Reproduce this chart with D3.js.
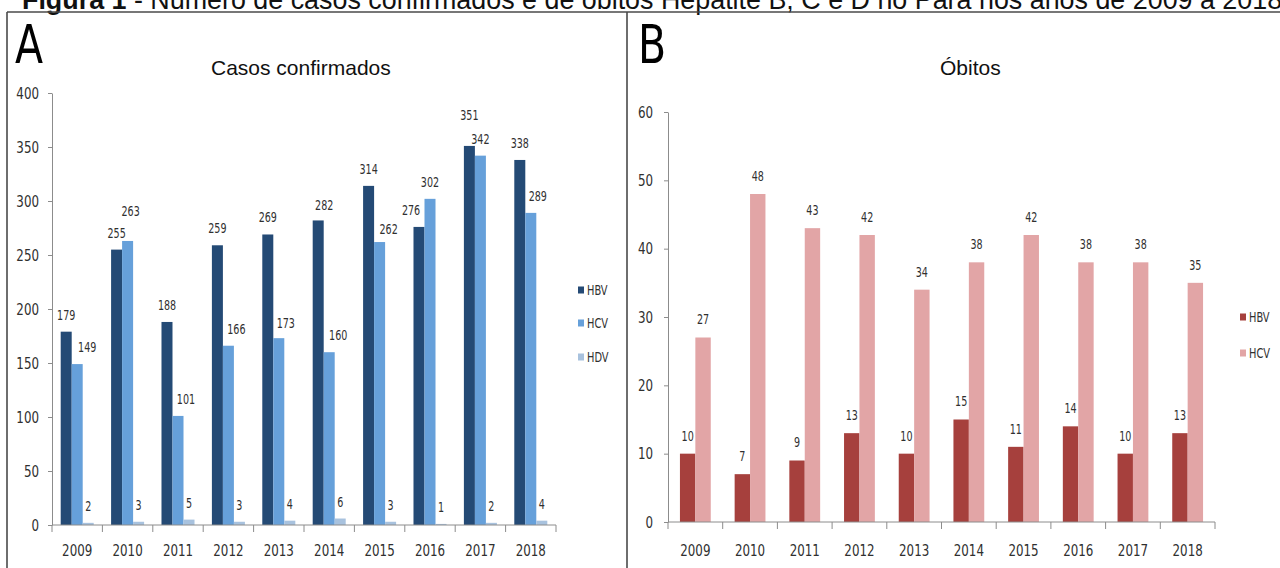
<!DOCTYPE html>
<html>
<head>
<meta charset="utf-8">
<script src="https://cdn.jsdelivr.net/npm/d3@7/dist/d3.min.js"></script>
<style>
  html, body { margin: 0; padding: 0; background: #fff; }
  svg { display: block; }
  .sans { font-family: 'Liberation Sans', Arial, sans-serif; }
  .letter { font-family: 'DejaVu Sans Condensed', 'DejaVu Sans', sans-serif; }
  /* narrow chart lettering: condensed face squeezed a little further */
  .narrow, .narrowEnd {
    font-family: 'DejaVu Sans Condensed', 'DejaVu Sans', sans-serif;
    transform-box: fill-box;
    transform: scaleX(0.8);
  }
  .narrow { transform-origin: 50% 50%; }
  .narrowEnd { transform-origin: 100% 50%; }
  .narrowStart { 
    font-family: 'DejaVu Sans Condensed', 'DejaVu Sans', sans-serif;
    transform-box: fill-box; transform-origin: 0% 50%; transform: scaleX(0.8);
  }
</style>
</head>
<body>
<svg id="fig" width="1280" height="568"></svg>
<script>
// ---- data ----
const years = ["2009", "2010", "2011", "2012", "2013", "2014", "2015", "2016", "2017", "2018"];

// Panel A: confirmed cases
const seriesA = ["HBV", "HCV", "HDV"];
const casosHBV = [179, 255, 188, 259, 269, 282, 314, 276, 351, 338];
const casosHCV = [149, 263, 101, 166, 173, 160, 262, 302, 342, 289];
const casosHDV = [2, 3, 5, 3, 4, 6, 3, 1, 2, 4];
const ticksA = [0, 50, 100, 150, 200, 250, 300, 350, 400];

// Panel B: deaths
const seriesB = ["HBV", "HCV"];
const obitosHBV = [10, 7, 9, 13, 10, 15, 11, 14, 10, 13];
const obitosHCV = [27, 48, 43, 42, 34, 38, 42, 38, 38, 35];
const ticksB = [0, 10, 20, 30, 40, 50, 60];

// hand-placed value labels (dx, dy in px relative to the default spot)
const shiftA_HBV = [[0,0],[0,0],[0,0],[0,0],[0,0],[6,2],[0,0],[-8,0],[0,-14],[0,0]];
const shiftA_HCV = [[10,0],[3,-13],[8,0],[8,0],[7,2],[9,0],[9,4],[0,0],[0,0],[7,0]];
const shiftA_HDV = years.map(() => [0, 0]);

const svg = d3.select("#fig");

// ---- figure caption and frame ----
const caption = svg.append("text").attr("class", "sans")
  .attr("x", 22).attr("y", 9).attr("fill", "#111").style("font-size", "22px");
caption.append("tspan").attr("font-weight", "bold").text("Figura 1");
caption.append("tspan").text(" - Número de casos confirmados e de óbitos Hepatite B, C e D no Pará nos anos de 2009 a 2018.");
// the caption runs across the whole page width
const capLen = caption.node().getComputedTextLength();
caption.style("font-size", (22 * 1268 / capLen).toFixed(2) + "px");

const frame = svg.append("g").attr("stroke", "#4a4a4a").attr("stroke-width", 1.6).attr("fill", "none");
frame.append("line").attr("x1", 7).attr("x2", 1280).attr("y1", 12).attr("y2", 12);
frame.append("line").attr("x1", 7).attr("x2", 7).attr("y1", 12).attr("y2", 568);
frame.append("line").attr("x1", 627).attr("x2", 627).attr("y1", 12).attr("y2", 568);

// ---- generic grouped bar panel ----
function panel(opts) {
  const g = svg.append("g");
  const x0 = d3.scaleBand().domain(years).range([opts.left, opts.right]).padding(0);
  const step = x0.bandwidth();
  const barW = step / (opts.series.length + opts.gap);
  const groupW = barW * opts.series.length;
  const x1 = d3.scaleBand().domain(opts.series)
    .range([(step - groupW) / 2, (step + groupW) / 2]).padding(0);
  const y = d3.scaleLinear().domain(opts.domain).range([opts.bottom, opts.top]);

  // panel letter
  g.append("text").attr("class", "letter")
    .attr("transform", `translate(${opts.letterX},63) scale(0.86,1)`)
    .attr("fill", "#000").style("font-size", "53px").text(opts.letter);

  // chart title
  g.append("text").attr("class", "sans")
    .attr("x", opts.titleX).attr("y", 75).attr("fill", "#111")
    .style("font-size", "21px").text(opts.title);

  // y axis
  const yAxis = g.append("g").attr("transform", `translate(${opts.left},0)`)
    .call(d3.axisLeft(y).tickValues(opts.ticks).tickSize(4).tickSizeOuter(0).tickPadding(opts.yPad));
  yAxis.select(".domain").attr("stroke", "#8c8c8c");
  yAxis.selectAll(".tick line").attr("stroke", "#8c8c8c");
  yAxis.selectAll(".tick text").attr("class", "narrowEnd").attr("fill", "#303030")
    .style("font-size", "16.5px").attr("font-family", null);

  // bars
  opts.series.forEach((s, si) => {
    g.append("g").selectAll("rect").data(opts.values[si]).join("rect")
      .attr("x", (d, i) => x0(years[i]) + x1(s))
      .attr("y", d => y(d))
      .attr("width", x1.bandwidth())
      .attr("height", d => y(0) - y(d))
      .attr("fill", opts.colors[si]);
  });

  // x axis: category labels and boundary ticks
  const xAxis = g.append("g").attr("transform", `translate(0,${opts.bottom})`)
    .call(d3.axisBottom(x0).tickSize(0).tickPadding(opts.xPad));
  xAxis.select(".domain").remove();
  xAxis.selectAll(".tick text").attr("class", "narrow").attr("fill", "#303030")
    .style("font-size", "16.5px");
  xAxis.attr("font-family", null);
  yAxis.attr("font-family", null);
  const bounds = years.map(d => x0(d)).concat([opts.right]);
  g.append("g").attr("stroke", "#8c8c8c").selectAll("line").data(bounds).join("line")
    .attr("x1", d => d).attr("x2", d => d)
    .attr("y1", opts.bottom).attr("y2", opts.bottom + 7);
  g.append("line").attr("stroke", "#8c8c8c")
    .attr("x1", opts.left).attr("x2", opts.right)
    .attr("y1", opts.bottom).attr("y2", opts.bottom);

  // value labels
  opts.series.forEach((s, si) => {
    g.append("g").selectAll("text").data(opts.values[si]).join("text")
      .attr("class", "narrow")
      .attr("text-anchor", "middle")
      .attr("fill", "#303030")
      .style("font-size", "13.3px")
      .attr("x", (d, i) => x0(years[i]) + x1(s) + x1.bandwidth() / 2 + opts.shifts[si][i][0])
      .attr("y", (d, i) => y(d) - opts.labelGap + opts.shifts[si][i][1])
      .text(d => d);
  });

  // legend
  const lg = g.append("g");
  opts.series.forEach((s, si) => {
    const cy = opts.legendY[si];
    lg.append("rect").attr("x", opts.legendX).attr("y", cy - 3.5)
      .attr("width", 6).attr("height", 7).attr("fill", opts.colors[si]);
    lg.append("text").attr("class", "narrowStart")
      .attr("x", opts.legendX + 9).attr("y", cy + 5)
      .attr("fill", "#303030").style("font-size", "13.7px").text(s);
  });
}

panel({
  letter: "A", letterX: 15, title: "Casos confirmados", titleX: 211,
  left: 52, right: 556, top: 93, bottom: 525, domain: [0, 400], ticks: ticksA,
  series: seriesA, values: [casosHBV, casosHCV, casosHDV], gap: 1.58,
  colors: ["#244a75", "#66a0da", "#a8c2de"],
  shifts: [shiftA_HBV, shiftA_HCV, shiftA_HDV], labelGap: 12,
  yPad: 9, xPad: 19,
  legendX: 578, legendY: [290, 323, 357]
});

panel({
  letter: "B", letterX: 638, title: "Óbitos", titleX: 940,
  left: 668, right: 1215, top: 112, bottom: 522, domain: [0, 60], ticks: ticksB,
  series: seriesB, values: [obitosHBV, obitosHCV], gap: 1.55,
  colors: ["#a6403d", "#e2a5a6"],
  shifts: [years.map(() => [0, 0]), years.map(() => [0, 0])], labelGap: 13,
  yPad: 11, xPad: 22,
  legendX: 1240, legendY: [317, 353]
});
</script>
</body>
</html>
